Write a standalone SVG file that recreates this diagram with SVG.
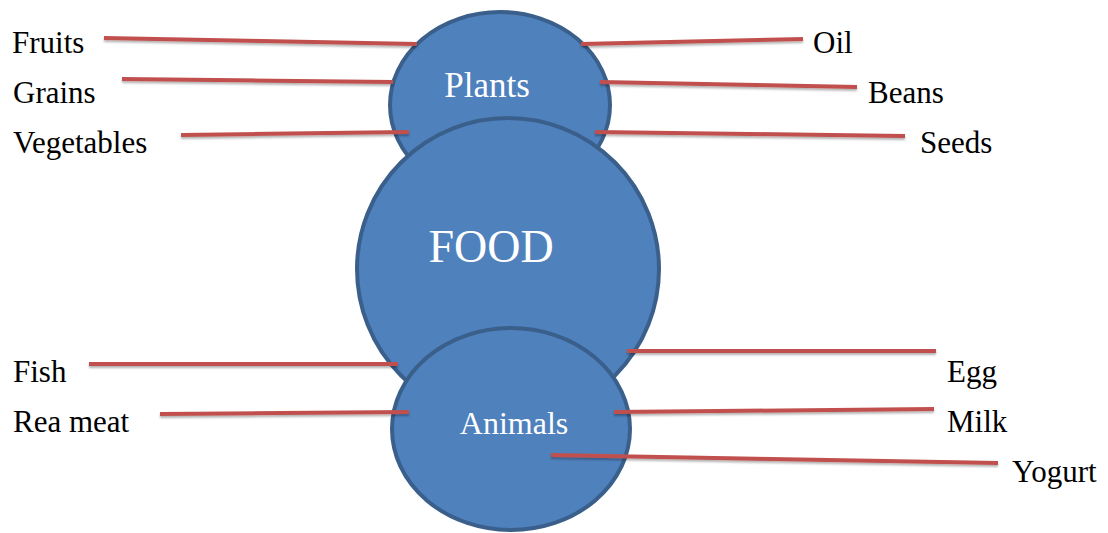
<svg xmlns="http://www.w3.org/2000/svg" width="1108" height="533" viewBox="0 0 1108 533">
<defs>
<filter id="sh" x="-10%" y="-10%" width="120%" height="140%">
<feDropShadow dx="0" dy="2" stdDeviation="1.2" flood-color="#000" flood-opacity="0.3"/>
</filter>
<style>
.node{fill:#4F81BD;stroke:#3A5F8B;stroke-width:4}
.in{fill:#FFFFFF;font-family:"Liberation Serif","Times New Roman",serif}
.lbl{font-size:31px;fill:#000000;font-family:"Liberation Serif","Times New Roman",serif}
.ln{stroke:#C0504D;stroke-width:4;fill:none}
</style>
</defs>
<rect width="1108" height="533" fill="#FFFFFF"/>
<g id="plants">
<ellipse class="node" cx="500" cy="105" rx="110" ry="93"/>
<text class="in" x="487" y="97" font-size="35" text-anchor="middle">Plants</text>
</g>
<g id="food">
<circle class="node" cx="508" cy="269" r="151"/>
<text class="in" x="491" y="262" font-size="46" text-anchor="middle">FOOD</text>
</g>
<g id="animals">
<ellipse class="node" cx="511" cy="429" rx="119" ry="101"/>
<text class="in" x="514" y="434" font-size="32" text-anchor="middle">Animals</text>
</g>
<g id="connectors" filter="url(#sh)">
<line class="ln" x1="104" y1="38" x2="417" y2="44"/>
<line class="ln" x1="122" y1="79" x2="393" y2="82"/>
<line class="ln" x1="181" y1="135" x2="409" y2="132"/>
<line class="ln" x1="581" y1="44" x2="803" y2="39"/>
<line class="ln" x1="600" y1="82" x2="857" y2="87"/>
<line class="ln" x1="595" y1="132" x2="905" y2="136"/>
<line class="ln" x1="89" y1="364" x2="398" y2="364"/>
<line class="ln" x1="160" y1="414" x2="409" y2="412"/>
<line class="ln" x1="627" y1="351" x2="936" y2="351"/>
<line class="ln" x1="614" y1="412" x2="934" y2="409"/>
<line class="ln" x1="551" y1="455" x2="998" y2="463"/>
</g>
<g id="fruits"><text class="lbl" x="12" y="53">Fruits</text></g>
<g id="grains"><text class="lbl" x="13" y="103">Grains</text></g>
<g id="vegetables"><text class="lbl" x="13" y="153">Vegetables</text></g>
<g id="oil"><text class="lbl" x="813" y="53">Oil</text></g>
<g id="beans"><text class="lbl" x="868" y="103">Beans</text></g>
<g id="seeds"><text class="lbl" x="920" y="153">Seeds</text></g>
<g id="fish"><text class="lbl" x="13" y="382">Fish</text></g>
<g id="reameat"><text class="lbl" x="13" y="432">Rea meat</text></g>
<g id="egg"><text class="lbl" x="947" y="382">Egg</text></g>
<g id="milk"><text class="lbl" x="947" y="432">Milk</text></g>
<g id="yogurt"><text class="lbl" x="1012" y="482">Yogurt</text></g>
</svg>
